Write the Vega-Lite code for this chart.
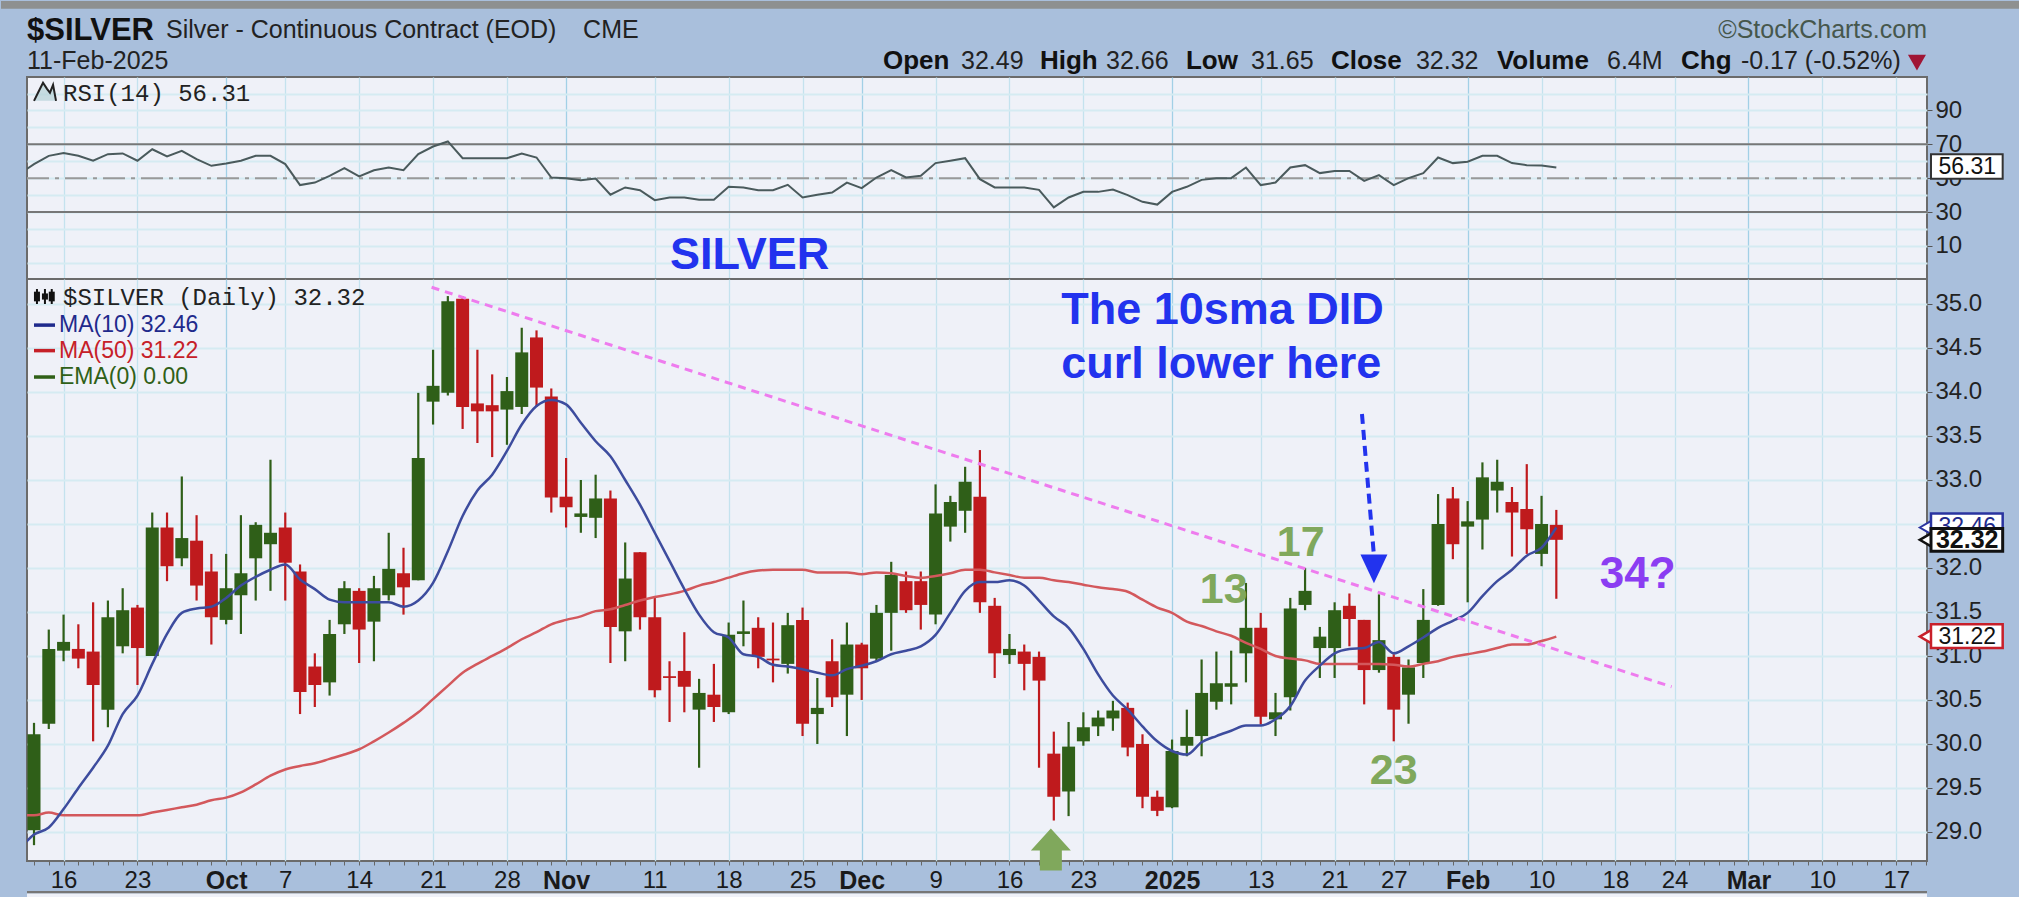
{"$schema":"https://vega.github.io/schema/vega-lite/v6.json","padding":0,"background":"#a9bfdc","spacing":0,"bounds":"flush",
"config":{"view":{"fill":"#eff1f8","stroke":"#6b6b6b","strokeWidth":2},"font":"Liberation Sans","text":{"font":"Liberation Sans"},"axis":{"labelFont":"Liberation Sans","title":null}},
"datasets":{
"candles":[
{"t":0,"date":"2024-09-12","open":29.02,"high":30.24,"low":28.85,"close":30.11},{"t":1,"date":"2024-09-13","open":30.23,"high":31.3,"low":30.17,"close":31.08},{"t":2,"date":"2024-09-16","open":31.06,"high":31.47,"low":30.94,"close":31.16},{"t":3,"date":"2024-09-17","open":31.08,"high":31.36,"low":30.86,"close":30.97},{"t":4,"date":"2024-09-18","open":31.05,"high":31.61,"low":30.03,"close":30.67},{"t":5,"date":"2024-09-19","open":30.39,"high":31.63,"low":30.19,"close":31.44},{"t":6,"date":"2024-09-20","open":31.11,"high":31.77,"low":31.03,"close":31.52},{"t":7,"date":"2024-09-23","open":31.55,"high":31.58,"low":30.67,"close":31.09},{"t":8,"date":"2024-09-24","open":31,"high":32.63,"low":31,"close":32.46},{"t":9,"date":"2024-09-25","open":32.46,"high":32.63,"low":31.85,"close":32.02},
{"t":10,"date":"2024-09-26","open":32.11,"high":33.04,"low":32.02,"close":32.34},{"t":11,"date":"2024-09-27","open":32.31,"high":32.6,"low":31.63,"close":31.8},{"t":12,"date":"2024-09-30","open":31.96,"high":32.16,"low":31.13,"close":31.44},{"t":13,"date":"2024-10-01","open":31.41,"high":32.16,"low":31.36,"close":31.77},{"t":14,"date":"2024-10-02","open":31.69,"high":32.6,"low":31.25,"close":31.94},{"t":15,"date":"2024-10-03","open":32.11,"high":32.52,"low":31.63,"close":32.49},{"t":16,"date":"2024-10-04","open":32.27,"high":33.23,"low":31.74,"close":32.4},{"t":17,"date":"2024-10-07","open":32.46,"high":32.63,"low":31.63,"close":32.06},{"t":18,"date":"2024-10-08","open":31.96,"high":32.04,"low":30.34,"close":30.59},{"t":19,"date":"2024-10-09","open":30.88,"high":31.03,"low":30.42,"close":30.67},
{"t":20,"date":"2024-10-10","open":30.7,"high":31.41,"low":30.55,"close":31.25},{"t":21,"date":"2024-10-11","open":31.36,"high":31.85,"low":31.25,"close":31.77},{"t":22,"date":"2024-10-14","open":31.74,"high":31.77,"low":30.92,"close":31.3},{"t":23,"date":"2024-10-15","open":31.39,"high":31.91,"low":30.94,"close":31.77},{"t":24,"date":"2024-10-16","open":31.69,"high":32.4,"low":31.63,"close":31.99},{"t":25,"date":"2024-10-17","open":31.94,"high":32.23,"low":31.47,"close":31.78},{"t":26,"date":"2024-10-18","open":31.86,"high":33.99,"low":31.86,"close":33.25},{"t":27,"date":"2024-10-21","open":33.89,"high":34.48,"low":33.63,"close":34.07},{"t":28,"date":"2024-10-22","open":33.99,"high":35.09,"low":33.96,"close":35.03},{"t":29,"date":"2024-10-23","open":35.06,"high":35.09,"low":33.58,"close":33.83},
{"t":30,"date":"2024-10-24","open":33.87,"high":34.48,"low":33.42,"close":33.78},{"t":31,"date":"2024-10-25","open":33.85,"high":34.2,"low":33.26,"close":33.78},{"t":32,"date":"2024-10-28","open":33.8,"high":34.17,"low":33.4,"close":34.01},{"t":33,"date":"2024-10-29","open":33.83,"high":34.73,"low":33.75,"close":34.45},{"t":34,"date":"2024-10-30","open":34.62,"high":34.7,"low":33.83,"close":34.05},{"t":35,"date":"2024-10-31","open":33.95,"high":34.04,"low":32.63,"close":32.8},{"t":36,"date":"2024-11-01","open":32.81,"high":33.25,"low":32.46,"close":32.69},{"t":37,"date":"2024-11-04","open":32.58,"high":33,"low":32.4,"close":32.62},{"t":38,"date":"2024-11-05","open":32.57,"high":33.06,"low":32.34,"close":32.79},{"t":39,"date":"2024-11-06","open":32.79,"high":32.88,"low":30.92,"close":31.33},
{"t":40,"date":"2024-11-07","open":31.28,"high":32.29,"low":30.94,"close":31.88},{"t":41,"date":"2024-11-08","open":32.18,"high":32.18,"low":31.3,"close":31.44},{"t":42,"date":"2024-11-11","open":31.44,"high":31.68,"low":30.53,"close":30.61},{"t":43,"date":"2024-11-12","open":30.77,"high":30.94,"low":30.25,"close":30.75},{"t":44,"date":"2024-11-13","open":30.83,"high":31.27,"low":30.36,"close":30.65},{"t":45,"date":"2024-11-14","open":30.39,"high":30.74,"low":29.73,"close":30.58},{"t":46,"date":"2024-11-15","open":30.56,"high":30.91,"low":30.25,"close":30.42},{"t":47,"date":"2024-11-18","open":30.36,"high":31.38,"low":30.34,"close":31.24},{"t":48,"date":"2024-11-19","open":31.25,"high":31.63,"low":31.11,"close":31.28},{"t":49,"date":"2024-11-20","open":31.32,"high":31.44,"low":30.86,"close":30.99},
{"t":50,"date":"2024-11-21","open":30.97,"high":31.38,"low":30.7,"close":30.95},{"t":51,"date":"2024-11-22","open":30.91,"high":31.49,"low":30.8,"close":31.35},{"t":52,"date":"2024-11-25","open":31.41,"high":31.55,"low":30.09,"close":30.23},{"t":53,"date":"2024-11-26","open":30.34,"high":30.75,"low":30,"close":30.41},{"t":54,"date":"2024-11-27","open":30.94,"high":31.19,"low":30.42,"close":30.53},{"t":55,"date":"2024-11-29","open":30.56,"high":31.38,"low":30.09,"close":31.13},{"t":56,"date":"2024-12-02","open":31.13,"high":31.15,"low":30.5,"close":30.86},{"t":57,"date":"2024-12-03","open":30.97,"high":31.58,"low":30.94,"close":31.49},{"t":58,"date":"2024-12-04","open":31.49,"high":32.07,"low":31.06,"close":31.92},{"t":59,"date":"2024-12-05","open":31.85,"high":31.96,"low":31.49,"close":31.52},
{"t":60,"date":"2024-12-06","open":31.85,"high":31.96,"low":31.3,"close":31.58},{"t":61,"date":"2024-12-09","open":31.47,"high":32.95,"low":31.36,"close":32.62},{"t":62,"date":"2024-12-10","open":32.47,"high":32.82,"low":32.3,"close":32.75},{"t":63,"date":"2024-12-11","open":32.65,"high":33.15,"low":32.4,"close":32.98},{"t":64,"date":"2024-12-12","open":32.81,"high":33.34,"low":31.49,"close":31.61},{"t":65,"date":"2024-12-13","open":31.57,"high":31.66,"low":30.75,"close":31.03},{"t":66,"date":"2024-12-16","open":31.01,"high":31.25,"low":30.91,"close":31.08},{"t":67,"date":"2024-12-17","open":31.05,"high":31.13,"low":30.61,"close":30.91},{"t":68,"date":"2024-12-18","open":30.99,"high":31.05,"low":29.73,"close":30.72},{"t":69,"date":"2024-12-19","open":29.89,"high":30.14,"low":29.13,"close":29.4},
{"t":70,"date":"2024-12-20","open":29.46,"high":30.25,"low":29.18,"close":29.97},{"t":71,"date":"2024-12-23","open":30.03,"high":30.36,"low":29.98,"close":30.19},{"t":72,"date":"2024-12-24","open":30.2,"high":30.38,"low":30.09,"close":30.3},{"t":73,"date":"2024-12-26","open":30.29,"high":30.49,"low":30.15,"close":30.38},{"t":74,"date":"2024-12-27","open":30.41,"high":30.47,"low":29.86,"close":29.96},{"t":75,"date":"2024-12-30","open":30,"high":30.11,"low":29.27,"close":29.4},{"t":76,"date":"2024-12-31","open":29.4,"high":29.47,"low":29.18,"close":29.24},{"t":77,"date":"2025-01-02","open":29.28,"high":30.05,"low":29.27,"close":29.92},{"t":78,"date":"2025-01-03","open":29.98,"high":30.39,"low":29.86,"close":30.08},{"t":79,"date":"2025-01-06","open":30.09,"high":30.96,"low":29.86,"close":30.58},
{"t":80,"date":"2025-01-07","open":30.48,"high":31.05,"low":30.39,"close":30.69},{"t":81,"date":"2025-01-08","open":30.65,"high":31.06,"low":30.45,"close":30.69},{"t":82,"date":"2025-01-10","open":31.03,"high":31.83,"low":30.7,"close":31.32},{"t":83,"date":"2025-01-13","open":31.32,"high":31.49,"low":30.22,"close":30.31},{"t":84,"date":"2025-01-14","open":30.28,"high":30.58,"low":30.09,"close":30.36},{"t":85,"date":"2025-01-15","open":30.53,"high":31.66,"low":30.38,"close":31.54},{"t":86,"date":"2025-01-16","open":31.58,"high":32,"low":31.52,"close":31.74},{"t":87,"date":"2025-01-17","open":31.09,"high":31.33,"low":30.75,"close":31.22},{"t":88,"date":"2025-01-21","open":31.09,"high":31.61,"low":30.75,"close":31.52},{"t":89,"date":"2025-01-22","open":31.57,"high":31.71,"low":31.11,"close":31.42},
{"t":90,"date":"2025-01-23","open":31.41,"high":31.41,"low":30.45,"close":30.84},{"t":91,"date":"2025-01-24","open":30.84,"high":31.7,"low":30.81,"close":31.18},{"t":92,"date":"2025-01-27","open":30.99,"high":31.02,"low":30.03,"close":30.39},{"t":93,"date":"2025-01-28","open":30.56,"high":30.96,"low":30.23,"close":30.87},{"t":94,"date":"2025-01-29","open":30.92,"high":31.76,"low":30.75,"close":31.41},{"t":95,"date":"2025-01-30","open":31.58,"high":32.84,"low":31.57,"close":32.5},{"t":96,"date":"2025-01-31","open":32.79,"high":32.92,"low":32.1,"close":32.27},{"t":97,"date":"2025-02-03","open":32.47,"high":32.76,"low":31.61,"close":32.53},{"t":98,"date":"2025-02-04","open":32.55,"high":33.2,"low":32.21,"close":33.03},{"t":99,"date":"2025-02-05","open":32.88,"high":33.23,"low":32.63,"close":32.98},
{"t":100,"date":"2025-02-06","open":32.75,"high":32.92,"low":32.13,"close":32.63},{"t":101,"date":"2025-02-07","open":32.67,"high":33.18,"low":32.16,"close":32.44},{"t":102,"date":"2025-02-10","open":32.16,"high":32.82,"low":32.02,"close":32.5},{"t":103,"date":"2025-02-11","open":32.49,"high":32.66,"low":31.65,"close":32.32}],
"rsi":[{"t":-1,"v":52.4},{"t":0,"v":58.3},{"t":1,"v":63.2},{"t":2,"v":64.8},{"t":3,"v":63.2},{"t":4,"v":60.3},{"t":5,"v":64.2},{"t":6,"v":64.6},{"t":7,"v":60.3},{"t":8,"v":67.1},{"t":9,"v":62.8},{"t":10,"v":66.2},{"t":11,"v":61.2},{"t":12,"v":57.3},{"t":13,"v":58.7},{"t":14,"v":60.3},{"t":15,"v":63.2},{"t":16,"v":63.2},{"t":17,"v":58.3},{"t":18,"v":45.9},{"t":19,"v":47.4},{"t":20,"v":51.4},{"t":21,"v":55.9},{"t":22,"v":51},{"t":23,"v":54.7},{"t":24,"v":56.3},{"t":25,"v":54.7},{"t":26,"v":64.2},{"t":27,"v":68.7},{"t":28,"v":71.7},{"t":29,"v":61.8},{"t":30,"v":61.8},{"t":31,"v":61.8},{"t":32,"v":61.8},{"t":33,"v":64.6},{"t":34,"v":62.2},{"t":35,"v":50.4},{"t":36,"v":50},{"t":37,"v":48.8},{"t":38,"v":49.8},{"t":39,"v":40.2},{"t":40,"v":44.5},{"t":41,"v":42.9},{"t":42,"v":37},{"t":43,"v":38.6},{"t":44,"v":38.6},{"t":45,"v":37.2},{"t":46,"v":37.2},{"t":47,"v":44.9},{"t":48,"v":44.5},{"t":49,"v":42.9},{"t":50,"v":42.9},{"t":51,"v":46.1},{"t":52,"v":38.6},{"t":53,"v":40.2},{"t":54,"v":41.5},{"t":55,"v":47.4},{"t":56,"v":44.1},{"t":57,"v":50.4},{"t":58,"v":54.7},{"t":59,"v":50.4},{"t":60,"v":51.4},{"t":61,"v":58.9},{"t":62,"v":60.3},{"t":63,"v":61.8},{"t":64,"v":49.4},{"t":65,"v":44.5},{"t":66,"v":44.5},{"t":67,"v":44.5},{"t":68,"v":43.1},{"t":69,"v":32.7},{"t":70,"v":38.6},{"t":71,"v":41.9},{"t":72,"v":41.9},{"t":73,"v":43.3},{"t":74,"v":40},{"t":75,"v":36},{"t":76,"v":34.4},{"t":77,"v":41.9},{"t":78,"v":44.9},{"t":79,"v":49},{"t":80,"v":50},{"t":81,"v":50},{"t":82,"v":56.3},{"t":83,"v":45.9},{"t":84,"v":47.4},{"t":85,"v":56.3},{"t":86,"v":57.7},{"t":87,"v":53},{"t":88,"v":54.3},{"t":89,"v":54.3},{"t":90,"v":48.4},{"t":91,"v":51.8},{"t":92,"v":45.9},{"t":93,"v":50},{"t":94,"v":53},{"t":95,"v":62.2},{"t":96,"v":58.9},{"t":97,"v":59.7},{"t":98,"v":63.2},{"t":99,"v":63.2},{"t":100,"v":58.9},{"t":101,"v":57.7},{"t":102,"v":57.5},{"t":103,"v":56.31}],
"ma10":[{"t":-1,"v":28.8},{"t":0,"v":28.97},{"t":1,"v":29.05},{"t":2,"v":29.26},{"t":3,"v":29.5},{"t":4,"v":29.73},{"t":5,"v":29.98},{"t":6,"v":30.34},{"t":7,"v":30.55},{"t":8,"v":30.91},{"t":9,"v":31.25},{"t":10,"v":31.49},{"t":11,"v":31.54},{"t":12,"v":31.56},{"t":13,"v":31.66},{"t":14,"v":31.8},{"t":15,"v":31.9},{"t":16,"v":31.98},{"t":17,"v":32.04},{"t":18,"v":31.87},{"t":19,"v":31.76},{"t":20,"v":31.64},{"t":21,"v":31.61},{"t":22,"v":31.61},{"t":23,"v":31.61},{"t":24,"v":31.61},{"t":25,"v":31.56},{"t":26,"v":31.63},{"t":27,"v":31.83},{"t":28,"v":32.19},{"t":29,"v":32.59},{"t":30,"v":32.88},{"t":31,"v":33.06},{"t":32,"v":33.33},{"t":33,"v":33.63},{"t":34,"v":33.84},{"t":35,"v":33.91},{"t":36,"v":33.86},{"t":37,"v":33.65},{"t":38,"v":33.44},{"t":39,"v":33.27},{"t":40,"v":33},{"t":41,"v":32.72},{"t":42,"v":32.4},{"t":43,"v":32.08},{"t":44,"v":31.76},{"t":45,"v":31.47},{"t":46,"v":31.27},{"t":47,"v":31.21},{"t":48,"v":31.02},{"t":49,"v":30.99},{"t":50,"v":30.9},{"t":51,"v":30.88},{"t":52,"v":30.85},{"t":53,"v":30.81},{"t":54,"v":30.78},{"t":55,"v":30.85},{"t":56,"v":30.89},{"t":57,"v":30.94},{"t":58,"v":31.02},{"t":59,"v":31.06},{"t":60,"v":31.11},{"t":61,"v":31.24},{"t":62,"v":31.49},{"t":63,"v":31.74},{"t":64,"v":31.84},{"t":65,"v":31.84},{"t":66,"v":31.86},{"t":67,"v":31.8},{"t":68,"v":31.63},{"t":69,"v":31.45},{"t":70,"v":31.32},{"t":71,"v":31.08},{"t":72,"v":30.79},{"t":73,"v":30.55},{"t":74,"v":30.39},{"t":75,"v":30.2},{"t":76,"v":30.03},{"t":77,"v":29.92},{"t":78,"v":29.88},{"t":79,"v":30.02},{"t":80,"v":30.09},{"t":81,"v":30.15},{"t":82,"v":30.21},{"t":83,"v":30.21},{"t":84,"v":30.28},{"t":85,"v":30.43},{"t":86,"v":30.72},{"t":87,"v":30.89},{"t":88,"v":31.03},{"t":89,"v":31.08},{"t":90,"v":31.09},{"t":91,"v":31.16},{"t":92,"v":31.03},{"t":93,"v":31.11},{"t":94,"v":31.21},{"t":95,"v":31.32},{"t":96,"v":31.4},{"t":97,"v":31.49},{"t":98,"v":31.68},{"t":99,"v":31.85},{"t":100,"v":31.98},{"t":101,"v":32.14},{"t":102,"v":32.23},{"t":103,"v":32.46}],
"ma50":[{"t":-1,"v":29.19},{"t":0,"v":29.19},{"t":1,"v":29.22},{"t":2,"v":29.19},{"t":3,"v":29.19},{"t":4,"v":29.19},{"t":5,"v":29.19},{"t":6,"v":29.19},{"t":7,"v":29.19},{"t":8,"v":29.22},{"t":9,"v":29.25},{"t":10,"v":29.28},{"t":11,"v":29.31},{"t":12,"v":29.36},{"t":13,"v":29.39},{"t":14,"v":29.45},{"t":15,"v":29.54},{"t":16,"v":29.64},{"t":17,"v":29.71},{"t":18,"v":29.75},{"t":19,"v":29.78},{"t":20,"v":29.83},{"t":21,"v":29.88},{"t":22,"v":29.94},{"t":23,"v":30.03},{"t":24,"v":30.13},{"t":25,"v":30.24},{"t":26,"v":30.36},{"t":27,"v":30.51},{"t":28,"v":30.66},{"t":29,"v":30.81},{"t":30,"v":30.91},{"t":31,"v":31},{"t":32,"v":31.09},{"t":33,"v":31.19},{"t":34,"v":31.27},{"t":35,"v":31.36},{"t":36,"v":31.41},{"t":37,"v":31.45},{"t":38,"v":31.51},{"t":39,"v":31.53},{"t":40,"v":31.58},{"t":41,"v":31.63},{"t":42,"v":31.67},{"t":43,"v":31.7},{"t":44,"v":31.74},{"t":45,"v":31.8},{"t":46,"v":31.84},{"t":47,"v":31.89},{"t":48,"v":31.94},{"t":49,"v":31.97},{"t":50,"v":31.98},{"t":51,"v":31.98},{"t":52,"v":31.98},{"t":53,"v":31.95},{"t":54,"v":31.95},{"t":55,"v":31.95},{"t":56,"v":31.93},{"t":57,"v":31.95},{"t":58,"v":31.94},{"t":59,"v":31.91},{"t":60,"v":31.89},{"t":61,"v":31.91},{"t":62,"v":31.94},{"t":63,"v":31.98},{"t":64,"v":31.98},{"t":65,"v":31.95},{"t":66,"v":31.92},{"t":67,"v":31.89},{"t":68,"v":31.89},{"t":69,"v":31.86},{"t":70,"v":31.84},{"t":71,"v":31.81},{"t":72,"v":31.78},{"t":73,"v":31.76},{"t":74,"v":31.73},{"t":75,"v":31.64},{"t":76,"v":31.55},{"t":77,"v":31.49},{"t":78,"v":31.39},{"t":79,"v":31.34},{"t":80,"v":31.28},{"t":81,"v":31.23},{"t":82,"v":31.15},{"t":83,"v":31.08},{"t":84,"v":31},{"t":85,"v":30.97},{"t":86,"v":30.95},{"t":87,"v":30.91},{"t":88,"v":30.91},{"t":89,"v":30.91},{"t":90,"v":30.91},{"t":91,"v":30.91},{"t":92,"v":30.9},{"t":93,"v":30.88},{"t":94,"v":30.91},{"t":95,"v":30.94},{"t":96,"v":30.99},{"t":97,"v":31.02},{"t":98,"v":31.05},{"t":99,"v":31.09},{"t":100,"v":31.13},{"t":101,"v":31.13},{"t":102,"v":31.17},{"t":103,"v":31.22}]
},
"vconcat":[
{"width":1900,"height":202,
"encoding":{"x":{"field":"t","type":"quantitative","title":null,"scale":{"domain":[-0.474,128.08],"nice":false,"zero":false,"padding":0},
"axis":{"values":[2,7,13,17,22,27,32,36,42,47,52,56,61,66,71,77,83,88,92,97,102,107,111,116,121,126],"labels":false,"ticks":false,"domain":false,"grid":true,"gridWidth":1.3,"gridColor":{"condition":{"test":"indexof([13,36,56,77,97,116],datum.value)>=0","value":"#a2d0e6"},"value":"#c4e2ee"}}},
"y":{"field":"v","type":"quantitative","title":null,"scale":{"domain":[-9.6,109.8],"nice":false,"zero":false},
"axis":{"orient":"right","values":[0,10,20,30,40,50,60,70,80,90,100],"labelExpr":"datum.value%20==10?datum.label:''","labelFontSize":24,"labelColor":"#222222","labelPadding":3,"tickSize":5,"tickColor":"#555555","tickOpacity":{"condition":{"test":"datum.value%20==10","value":1},"value":0},"domain":false,"grid":true,"gridColor":"#d5ebf2","gridWidth":2,"labelOverlap":false,"labelFlush":false}}},
"layer":[
{"data":{"values":[{"t":-2.233,"t2":134.37,"v":150.2,"v2":154.7}]},"mark":{"type":"rect","color":"#8e9090"},"encoding":{"x2":{"field":"t2"},"y2":{"field":"v2"}}},
{"data":{"values":[{"t":-0.474,"t2":128.08,"v":70},{"t":-0.474,"t2":128.08,"v":30}]},"mark":{"type":"rule","color":"#777777","strokeWidth":2},"encoding":{"x2":{"field":"t2"}}},
{"data":{"values":[{"t":-0.474,"t2":128.08,"v":50}]},"mark":{"type":"rule","color":"#999999","strokeWidth":2,"strokeDash":[22,6,4,6]},"encoding":{"x2":{"field":"t2"}}},
{"data":{"name":"rsi"},"mark":{"type":"line","color":"#4a5a5c","strokeWidth":2,"clip":true},"encoding":{}},
{"data":{"values":[{"t":128.35,"t2":133.2,"v":49.6,"v2":64.2}]},"mark":{"type":"rect","fill":"#ffffff","stroke":"#333333","strokeWidth":2},"encoding":{"x2":{"field":"t2"},"y2":{"field":"v2"}}},
{"data":{"values":[{"t":130.8,"v":56.31,"label":"56.31"}]},"mark":{"type":"text","fontSize":23,"color":"#111111","align":"center","baseline":"middle"},"encoding":{"text":{"field":"label"}}},
{"data":{"values":[{"t":-0.47,"v":131.8,"label":"$SILVER"}]},"mark":{"type":"text","fontSize":31,"fontWeight":"bold","color":"#111111","align":"left","baseline":"alphabetic"},"encoding":{"text":{"field":"label"}}},
{"data":{"values":[{"t":8.93,"v":133,"label":"Silver - Continuous Contract (EOD)"},{"t":37.15,"v":133,"label":"CME"},{"t":-0.47,"v":114.7,"label":"11-Feb-2025"},{"t":62.72,"v":114.7,"label":"32.49"},{"t":72.53,"v":114.7,"label":"32.66"},{"t":82.34,"v":114.7,"label":"31.65"},{"t":93.5,"v":114.7,"label":"32.32"},{"t":106.43,"v":114.7,"label":"6.4M"},{"t":115.49,"v":114.7,"label":"-0.17 (-0.52%)"}]},"mark":{"type":"text","fontSize":25,"color":"#222222","align":"left","baseline":"alphabetic"},"encoding":{"text":{"field":"label"}}},
{"data":{"values":[{"t":57.44,"v":114.7,"label":"Open"},{"t":68.06,"v":114.7,"label":"High"},{"t":77.94,"v":114.7,"label":"Low"},{"t":87.75,"v":114.7,"label":"Close"},{"t":98.98,"v":114.7,"label":"Volume"},{"t":111.44,"v":114.7,"label":"Chg"}]},"mark":{"type":"text","fontSize":26,"fontWeight":"bold","color":"#111111","align":"left","baseline":"alphabetic"},"encoding":{"text":{"field":"label"}}},
{"data":{"values":[{"t":128.08,"v":133,"label":"©StockCharts.com"}]},"mark":{"type":"text","fontSize":25,"color":"#46574c","align":"right","baseline":"alphabetic"},"encoding":{"text":{"field":"label"}}},
{"data":{"values":[{"t":127.4,"v":118.3}]},"mark":{"type":"point","shape":"triangle-down","filled":true,"size":324,"color":"#a01535","opacity":1}},
{"data":{"values":[{"t":0,"v":95.7},{"t":0.27,"v":100.5},{"t":0.61,"v":106.4},{"t":0.88,"v":102.8},{"t":1.08,"v":100.5},{"t":1.29,"v":105.2},{"t":1.49,"v":95.7}]},"mark":{"type":"area","color":"#b5d2d6","line":{"color":"#222222","strokeWidth":2}},"encoding":{"y2":{"datum":95.7}}},
{"data":{"values":[{"t":1.96,"v":99.9,"label":"RSI(14) 56.31"}]},"mark":{"type":"text","font":"Liberation Mono","fontSize":24,"color":"#222222","align":"left","baseline":"middle"},"encoding":{"text":{"field":"label"}}},
{"data":{"values":[{"t":43.03,"v":-3.7,"label":"SILVER"}]},"mark":{"type":"text","fontSize":45,"fontWeight":"bold","color":"#2233ee","align":"left","baseline":"alphabetic"},"encoding":{"text":{"field":"label"}}}
]},
{"width":1900,"height":582,
"encoding":{"x":{"field":"t","type":"quantitative","title":null,"scale":{"domain":[-0.474,128.08],"nice":false,"zero":false,"padding":0},
"axis":{"values":[0,1,2,3,4,5,6,7,8,9,10,11,12,13,14,15,16,17,18,19,20,21,22,23,24,25,26,27,28,29,30,31,32,33,34,35,36,37,38,39,40,41,42,43,44,45,46,47,48,49,50,51,52,53,54,55,56,57,58,59,60,61,62,63,64,65,66,67,68,69,70,71,72,73,74,75,76,77,78,79,80,81,82,83,84,85,86,87,88,89,90,91,92,93,94,95,96,97,98,99,100,101,102,103,104,105,106,107,108,109,110,111,112,113,114,115,116,117,118,119,120,121,122,123,124,125,126,127,128],
"labelExpr":"indexof([2,7,13,17,22,27,32,36,42,47,52,56,61,66,71,77,83,88,92,97,102,107,111,116,121,126],datum.value)>=0?['16','23','Oct','7','14','21','28','Nov','11','18','25','Dec','9','16','23','2025','13','21','27','Feb','10','18','24','Mar','10','17'][indexof([2,7,13,17,22,27,32,36,42,47,52,56,61,66,71,77,83,88,92,97,102,107,111,116,121,126],datum.value)]:''",
"labelFontSize":{"condition":{"test":"indexof([13,36,56,77,97,116],datum.value)>=0","value":25},"value":24},"labelFontWeight":{"condition":{"test":"indexof([13,36,56,77,97,116],datum.value)>=0","value":"bold"},"value":"normal"},"labelColor":"#1a1a1a","labelPadding":3,"labelOverlap":false,"labelFlush":false,"labelBound":false,"tickSize":4,"tickColor":"#666666","domain":false,"grid":true,"gridWidth":1.3,
"gridOpacity":{"condition":{"test":"indexof([2,7,13,17,22,27,32,36,42,47,52,56,61,66,71,77,83,88,92,97,102,107,111,116,121,126],datum.value)>=0","value":1},"value":0},
"gridColor":{"condition":{"test":"indexof([13,36,56,77,97,116],datum.value)>=0","value":"#a2d0e6"},"value":"#c4e2ee"}}},
"y":{"field":"v","type":"quantitative","title":null,"scale":{"domain":[28.67,35.284],"nice":false,"zero":false},
"axis":{"orient":"right","values":[29,29.5,30,30.5,31,31.5,32,32.5,33,33.5,34,34.5,35],"format":".1f","labelFontSize":24,"labelColor":"#222222","labelPadding":3,"tickSize":5,"tickColor":"#555555","domain":false,"grid":true,"gridColor":"#d5ebf2","gridWidth":2,"labelOverlap":false,"labelFlush":false}}},
"layer":[
{"data":{"name":"candles"},"mark":{"type":"rule","strokeWidth":2.2},"encoding":{"y":{"field":"low","type":"quantitative","title":null,"scale":{"domain":[28.67,35.284],"nice":false,"zero":false}},"y2":{"field":"high"},"color":{"condition":{"test":"datum.close>=datum.open","value":"#2f5f18"},"value":"#bf1a1d"}}},
{"data":{"name":"candles"},"mark":{"type":"bar","size":13,"orient":"vertical"},"encoding":{"y":{"field":"open","type":"quantitative","title":null,"stack":null,"scale":{"domain":[28.67,35.284],"nice":false,"zero":false}},"y2":{"field":"close"},"color":{"condition":{"test":"datum.close>=datum.open","value":"#2f5f18"},"value":"#bf1a1d"}}},
{"data":{"name":"ma50"},"mark":{"type":"line","color":"#d3585c","strokeWidth":2.5,"clip":true,"interpolate":"monotone"},"encoding":{}},
{"data":{"name":"ma10"},"mark":{"type":"line","color":"#3d4c9e","strokeWidth":2.5,"clip":true,"interpolate":"monotone"},"encoding":{}},
{"data":{"values":[{"t":26.9,"v":35.19},{"t":110.8,"v":30.65}]},"mark":{"type":"line","color":"#ee7cee","strokeWidth":3,"strokeDash":[8,6]},"encoding":{}},
{"data":{"values":[{"t":89.85,"v":33.75},{"t":90.66,"v":32.14}]},"mark":{"type":"line","color":"#2233ee","strokeWidth":4,"strokeDash":[10,6]},"encoding":{}},
{"data":{"values":[{"t":90.66,"v":31.99}]},"mark":{"type":"point","shape":"M-1,-1.07L1,-1.07L0,1.07Z","filled":true,"size":729,"color":"#2233ee","opacity":1}},
{"data":{"values":[{"t":68.8,"v":28.8}]},"mark":{"type":"point","shape":"M0,-1.05L1,0.05L0.55,0.05L0.55,1.05L-0.55,1.05L-0.55,0.05L-1,0.05Z","filled":true,"size":1600,"color":"#80a85c","opacity":1}},
{"data":{"values":[{"t":69.5,"v":34.77,"label":"The 10sma DID"},{"t":69.5,"v":34.16,"label":"curl lower here"}]},"mark":{"type":"text","fontSize":45,"fontWeight":"bold","color":"#2233ee","align":"left","baseline":"alphabetic"},"encoding":{"text":{"field":"label"}}},
{"data":{"values":[{"t":80.5,"v":31.6,"label":"13"},{"t":85.7,"v":32.14,"label":"17"},{"t":92,"v":29.55,"label":"23"}]},"mark":{"type":"text","fontSize":43,"fontWeight":"bold","color":"#80a85c","align":"center","baseline":"alphabetic"},"encoding":{"text":{"field":"label"}}},
{"data":{"values":[{"t":108.5,"v":31.77,"label":"34?"}]},"mark":{"type":"text","fontSize":44,"fontWeight":"bold","color":"#8b3df2","align":"center","baseline":"alphabetic"},"encoding":{"text":{"field":"label"}}},
{"data":{"values":[{"t":0.2,"t2":0.2,"v":35,"v2":35.17},{"t":0.74,"t2":0.74,"v":35,"v2":35.17},{"t":1.2,"t2":1.2,"v":35,"v2":35.17}]},"mark":{"type":"rule","color":"#111111","strokeWidth":2},"encoding":{"y2":{"field":"v2"}}},
{"data":{"values":[{"t":0.2,"v":35.03,"v2":35.14},{"t":0.74,"v":35.05,"v2":35.12},{"t":1.2,"v":35.03,"v2":35.14}]},"mark":{"type":"rule","color":"#111111","strokeWidth":6},"encoding":{"y2":{"field":"v2"}}},
{"data":{"values":[{"t":1.96,"v":35.07,"label":"$SILVER (Daily) 32.32"}]},"mark":{"type":"text","font":"Liberation Mono","fontSize":24,"color":"#222222","align":"left","baseline":"middle"},"encoding":{"text":{"field":"label"}}},
{"data":{"values":[{"t":0,"t2":1.42,"v":34.76,"series":"MA(10)"},{"t":0,"t2":1.42,"v":34.47,"series":"MA(50)"},{"t":0,"t2":1.42,"v":34.17,"series":"EMA(0)"}]},"mark":{"type":"rule","strokeWidth":3.5},"encoding":{"x2":{"field":"t2"},"color":{"field":"series","type":"nominal","scale":{"domain":["MA(10)","MA(50)","EMA(0)"],"range":["#1f2a8c","#c62028","#2f6017"]},"legend":null}}},
{"data":{"values":[{"t":1.69,"v":34.76,"series":"MA(10)","label":"MA(10) 32.46"},{"t":1.69,"v":34.47,"series":"MA(50)","label":"MA(50) 31.22"},{"t":1.69,"v":34.17,"series":"EMA(0)","label":"EMA(0) 0.00"}]},"mark":{"type":"text","fontSize":23,"align":"left","baseline":"middle"},"encoding":{"text":{"field":"label"},"color":{"field":"series","type":"nominal","scale":{"domain":["MA(10)","MA(50)","EMA(0)"],"range":["#1f2a8c","#c62028","#2f6017"]},"legend":null}}},
{"data":{"values":[{"t":128.1,"v":32.46}]},"mark":{"type":"point","shape":"triangle-left","filled":true,"size":300,"color":"#ffffff","stroke":"#2a34a0","strokeWidth":2,"opacity":1}},
{"data":{"values":[{"t":128.35,"t2":133.2,"v":32.31,"v2":32.62}]},"mark":{"type":"rect","fill":"#ffffff","stroke":"#2a34a0","strokeWidth":2.5},"encoding":{"x2":{"field":"t2"},"y2":{"field":"v2"}}},
{"data":{"values":[{"t":130.8,"v":32.46,"label":"32.46"}]},"mark":{"type":"text","fontSize":23,"color":"#1f2a8c","align":"center","baseline":"middle"},"encoding":{"text":{"field":"label"}}},
{"data":{"values":[{"t":128.1,"v":32.32}]},"mark":{"type":"point","shape":"triangle-left","filled":true,"size":300,"color":"#ffffff","stroke":"#111111","strokeWidth":2.5,"opacity":1}},
{"data":{"values":[{"t":128.35,"t2":133.2,"v":32.19,"v2":32.45}]},"mark":{"type":"rect","fill":"#ffffff","stroke":"#111111","strokeWidth":3},"encoding":{"x2":{"field":"t2"},"y2":{"field":"v2"}}},
{"data":{"values":[{"t":130.8,"v":32.32,"label":"32.32"}]},"mark":{"type":"text","fontSize":25,"fontWeight":"bold","color":"#111111","align":"center","baseline":"middle"},"encoding":{"text":{"field":"label"}}},
{"data":{"values":[{"t":128.1,"v":31.22}]},"mark":{"type":"point","shape":"triangle-left","filled":true,"size":300,"color":"#ffffff","stroke":"#c8202a","strokeWidth":2.5,"opacity":1}},
{"data":{"values":[{"t":128.35,"t2":133.2,"v":31.09,"v2":31.36}]},"mark":{"type":"rect","fill":"#ffffff","stroke":"#c8202a","strokeWidth":2.5},"encoding":{"x2":{"field":"t2"},"y2":{"field":"v2"}}},
{"data":{"values":[{"t":130.8,"v":31.22,"label":"31.22"}]},"mark":{"type":"text","fontSize":23,"color":"#111111","align":"center","baseline":"middle"},"encoding":{"text":{"field":"label"}}},
{"data":{"values":[{"t":-0.474,"t2":128.08,"v":28.33,"v2":28.3}]},"mark":{"type":"rect","color":"#777777"},"encoding":{"x2":{"field":"t2"},"y2":{"field":"v2"}}},
{"data":{"values":[{"t":-0.474,"t2":128.08,"v":28.3,"v2":28.25}]},"mark":{"type":"rect","color":"#eff1f8"},"encoding":{"x2":{"field":"t2"},"y2":{"field":"v2"}}}
]}
]}
